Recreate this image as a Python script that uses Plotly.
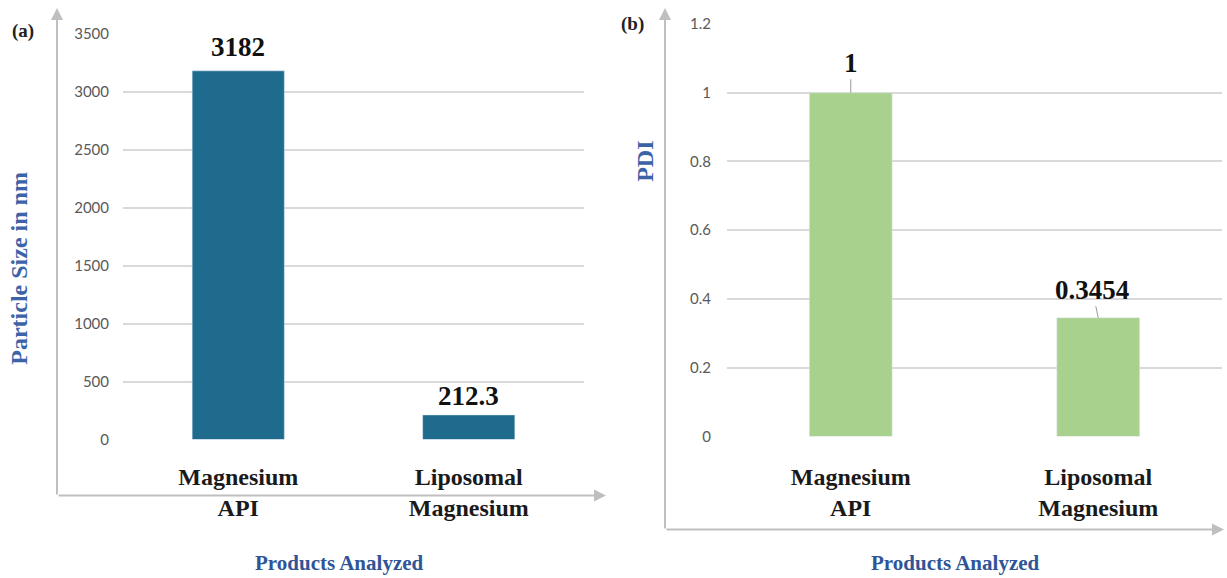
import plotly.graph_objects as go

# Panel (a): particle size, panel (b): polydispersity index
products = ["Magnesium API", "Liposomal Magnesium"]
product_ticks = ["Magnesium<br>API", "Liposomal<br>Magnesium"]
particle_size_nm = [3182, 212.3]
pdi_values = [1, 0.3454]
size_ticks = [0, 500, 1000, 1500, 2000, 2500, 3000, 3500]
pdi_ticks = [0, 0.2, 0.4, 0.6, 0.8, 1, 1.2]
pdi_tick_text = ["0", "0.2", "0.4", "0.6", "0.8", "1", "1.2"]

W, H = 1227, 578
SERIF = "Liberation Serif, Times New Roman, serif"
SANS = "Lato, Liberation Sans, sans-serif"
AXIS_GRAY = "#BFBFBF"
GRID_GRAY = "#D9D9D9"

# vertical placement helper: page offset/scale of the rendered figure
Y_OFF, Y_SCALE = 8.0, 0.97


def px(x):
    return x / W


def py(y):
    return 1 - ((y - Y_OFF) / Y_SCALE) / H


fig = go.Figure()

fig.add_trace(go.Bar(
    x=products, y=particle_size_nm, width=0.4, marker_color="#1F6B8E",
    xaxis="x", yaxis="y", showlegend=False,
))
fig.add_trace(go.Bar(
    x=products, y=pdi_values, width=0.335, marker_color="#A9D18E",
    xaxis="x2", yaxis="y2", showlegend=False,
))

cat_axis = dict(
    type="category", showgrid=False, showline=False, zeroline=False,
    ticks="outside", tickcolor="rgba(0,0,0,0)",
    tickvals=products, ticktext=product_ticks,
    tickfont=dict(family=SERIF, size=24, color="#1a1a1a", weight="bold"),
    fixedrange=True,
)
val_axis = dict(
    showgrid=True, gridcolor=GRID_GRAY, gridwidth=1.5,
    showline=False, zeroline=False,
    ticks="outside", tickcolor="rgba(0,0,0,0)",
    tickfont=dict(family=SANS, size=15, color="#595959"),
    fixedrange=True,
)

fig.update_layout(
    width=W, height=H,
    margin=dict(l=0, r=0, t=0, b=0),
    paper_bgcolor="white", plot_bgcolor="white",
    xaxis=dict(cat_axis, domain=[px(123), px(584)], anchor="y", ticklen=16),
    yaxis=dict(val_axis, domain=[py(438), py(32)], range=[0, 3500],
               tickvals=size_ticks, ticklen=10, anchor="x"),
    xaxis2=dict(cat_axis, domain=[px(727), px(1222)], anchor="y2", ticklen=19),
    yaxis2=dict(val_axis, domain=[py(435), py(22)], range=[0, 1.2],
                tickvals=pdi_ticks, ticktext=pdi_tick_text, ticklen=12,
                anchor="x2"),
)

annotations = []

# value labels above the bars
label_font = dict(family=SERIF, size=27, color="#111111", weight="bold")
for name, val, shift in zip(products, particle_size_nm, [24, 19]):
    annotations.append(dict(
        x=name, y=val, xref="x", yref="y", text=f"{val:g}",
        showarrow=False, yshift=shift, yanchor="middle", font=label_font,
    ))
for name, val, (dx, dy) in zip(products, pdi_values, [(0, -30), (-6, -28)]):
    annotations.append(dict(
        x=name, y=val, xref="x2", yref="y2", text=f"{val:g}",
        showarrow=True, arrowhead=0, arrowwidth=1, arrowcolor="#9a9a9a",
        ax=dx, ay=dy, font=label_font,
    ))


def text_at(x, y, text, size, color, angle=0):
    return dict(x=px(x), y=py(y), xref="paper", yref="paper",
                xanchor="center", yanchor="middle", text=text,
                textangle=angle, showarrow=False,
                font=dict(family=SERIF, size=size, color=color, weight="bold"))


# axis titles and panel letters
annotations += [
    text_at(19, 267, "Particle Size in nm", 24, "#3C63A8", -90),
    text_at(645, 160, "PDI", 24, "#3C63A8", -90),
    text_at(339, 562, "Products Analyzed", 21, "#2F5597"),
    text_at(955, 562, "Products Analyzed", 21, "#2F5597"),
    text_at(23, 29, "(a)", 19, "#222222"),
    text_at(632, 22, "(b)", 19, "#222222"),
]

# frame arrows of each panel: (tip_x, tip_y, tail_x, tail_y)
frame_arrows = [
    (57, 6, 57, 494), (606, 494, 57, 494),
    (665, 6, 665, 528), (1224, 528, 665, 528),
]
for tx, ty, sx, sy in frame_arrows:
    annotations.append(dict(
        x=px(tx), y=py(ty), xref="paper", yref="paper",
        ax=sx - tx, ay=sy - ty, axref="pixel", ayref="pixel",
        showarrow=True, arrowhead=2, arrowsize=1.2, arrowwidth=2,
        arrowcolor=AXIS_GRAY, text="",
    ))

fig.update_layout(annotations=annotations)

fig.write_html("out.html")
